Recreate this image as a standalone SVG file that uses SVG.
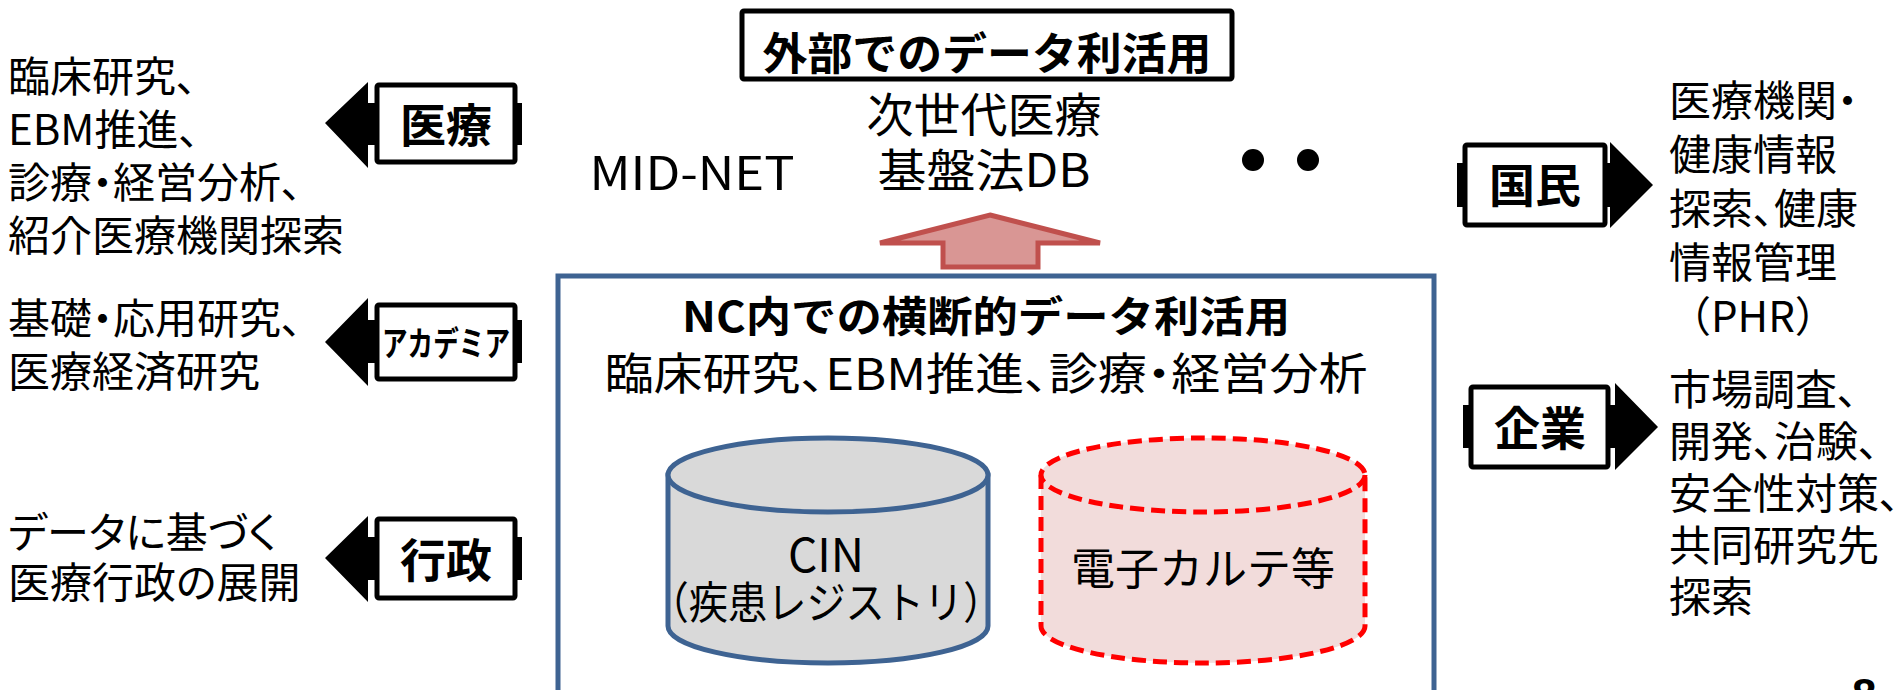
<svg xmlns="http://www.w3.org/2000/svg" width="1895" height="690" viewBox="0 0 1895 690">
<style>
text{font-family:"Noto Sans CJK JP","Liberation Sans",sans-serif;fill:#000}
.r{font-size:42px}
.p{font-feature-settings:"palt" 1}
.b{font-weight:bold}
.badge{fill:#fff;stroke:#000;stroke-width:5}
.blk{fill:#000}
.m{text-anchor:middle}
</style>
<rect width="1895" height="690" fill="#fff"/>
<g id="connectors">
<polygon id="up-arrow" points="990,215 1100,243 1038,243 1038,267 943,267 943,243 880,243" fill="#D99694" stroke="#C0504D" stroke-width="5" stroke-linejoin="miter"/>
</g>
<g id="external">
<rect x="742" y="11" width="490" height="68" rx="2" fill="#fff" stroke="#000" stroke-width="5"/>
<text class="b m" x="987" y="70" font-size="44" textLength="449" lengthAdjust="spacingAndGlyphs">外部でのデータ利活用</text>
</g>
<g id="mid-net"><text class="m" x="692" y="190" font-size="46" textLength="205" lengthAdjust="spacingAndGlyphs">MID-NET</text></g>
<g id="next-gen">
<text class="m" x="984" y="132" font-size="47">次世代医療</text>
<text class="m" x="984" y="187" font-size="46" textLength="213" lengthAdjust="spacingAndGlyphs">基盤法DB</text>
</g>
<g id="dots"><circle cx="1253" cy="160" r="11"/><circle cx="1308" cy="160" r="11"/></g>
<g id="nc">
<rect x="558" y="276" width="876" height="440" fill="#fff" stroke="#3E6392" stroke-width="5"/>
<text class="b m" x="986" y="332" font-size="42" textLength="608" lengthAdjust="spacingAndGlyphs">NC内での横断的データ利活用</text>
<text class="m p" x="986" y="390" font-size="44" textLength="763" lengthAdjust="spacingAndGlyphs">臨床研究、EBM推進、診療・経営分析</text>
</g>
<g id="cin">
<path d="M668,475 L668,626 A160,37 0 0 0 988,626 L988,475 Z" fill="#D9D9D9" stroke="#3E6392" stroke-width="5"/>
<ellipse cx="828" cy="475" rx="160" ry="37" fill="#D9D9D9" stroke="#3E6392" stroke-width="5"/>
<text class="m" x="826" y="572" font-size="46">CIN</text>
<text class="m" x="826" y="619" font-size="44" textLength="353" lengthAdjust="spacingAndGlyphs">（疾患レジストリ）</text>
</g>
<g id="emr">
<path d="M1041,475 L1041,626 A162,37 0 0 0 1365,626 L1365,475" fill="#F2DCDB" stroke="#FF0000" stroke-width="5" stroke-dasharray="14 7"/>
<ellipse cx="1203" cy="475" rx="162" ry="37" fill="#F2DCDB" stroke="#FF0000" stroke-width="5" stroke-dasharray="14 7"/>
<text class="m" x="1203" y="585" font-size="44">電子カルテ等</text>
</g>
<g id="iryo">
<polygon class="blk" points="325,123 368,82 368,103 522,103 522,145 368,145 368,168"/>
<rect class="badge" x="377" y="85" width="138" height="77" rx="2"/>
<text class="b m" x="446" y="142" font-size="46">医療</text>
<text class="r p" x="8" y="92">臨床研究、</text>
<text class="r p" x="8" y="145">EBM推進、</text>
<text class="r p" x="8" y="198">診療・経営分析、</text>
<text class="r p" x="8" y="251">紹介医療機関探索</text>
</g>
<g id="academia">
<polygon class="blk" points="325,342 368,298 368,320 522,320 522,363 368,363 368,386"/>
<rect class="badge" x="377" y="305" width="138" height="74" rx="2"/>
<text class="b m" x="446" y="356" font-size="34" textLength="128" lengthAdjust="spacingAndGlyphs">アカデミア</text>
<text class="r p" x="8" y="334">基礎・応用研究、</text>
<text class="r p" x="8" y="387">医療経済研究</text>
</g>
<g id="gyosei">
<polygon class="blk" points="325,558 368,516 368,537 522,537 522,580 368,580 368,602"/>
<rect class="badge" x="377" y="519" width="138" height="79" rx="2"/>
<text class="b m" x="446" y="577" font-size="46">行政</text>
<text class="r p" x="8" y="548">データに基づく</text>
<text class="r p" x="8" y="598">医療行政の展開</text>
</g>
<g id="kokumin">
<polygon class="blk" points="1653,185 1610,142 1610,163 1457,163 1457,207 1610,207 1610,228"/>
<rect class="badge" x="1465" y="145" width="140" height="80" rx="2"/>
<text class="b m" x="1535" y="202" font-size="46">国民</text>
<text class="r p" x="1669" y="116">医療機関・</text>
<text class="r p" x="1669" y="170">健康情報</text>
<text class="r p" x="1669" y="224">探索、健康</text>
<text class="r p" x="1669" y="278">情報管理</text>
<text class="r" x="1669" y="332">（PHR）</text>
</g>
<g id="kigyo">
<polygon class="blk" points="1658,427 1615,383 1615,405 1463,405 1463,448 1615,448 1615,470"/>
<rect class="badge" x="1471" y="387" width="137" height="80" rx="2"/>
<text class="b m" x="1540" y="445" font-size="46">企業</text>
<text class="r p" x="1669" y="405">市場調査、</text>
<text class="r p" x="1669" y="457">開発、治験、</text>
<text class="r p" x="1669" y="509">安全性対策、</text>
<text class="r p" x="1669" y="561">共同研究先</text>
<text class="r p" x="1669" y="612">探索</text>
</g>
<text class="b" x="1852" y="710" font-size="44" style="font-family:'Liberation Sans',sans-serif">8</text>
</svg>
